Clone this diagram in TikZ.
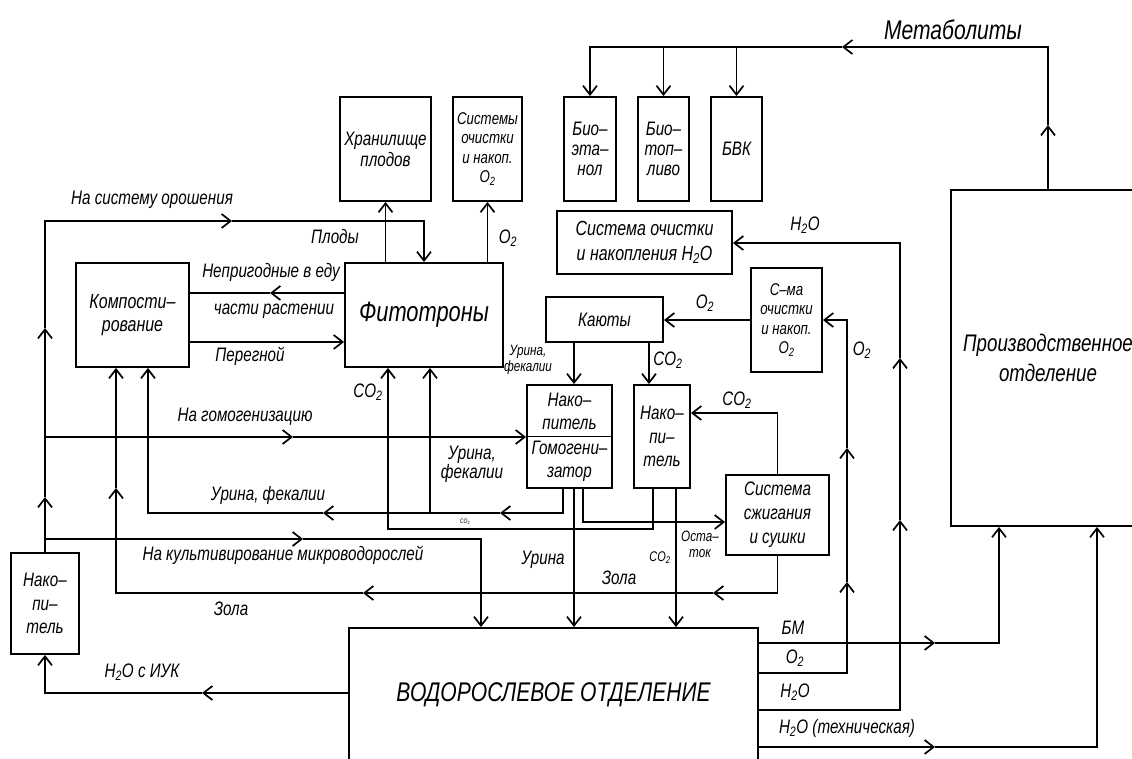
\documentclass[tikz,border=0pt]{standalone}
\usepackage{fontspec}
\setmainfont{Liberation Sans}[FakeStretch=0.78]
\usetikzlibrary{arrows.meta}
\newcommand{\two}{\textsubscript{2}}
\begin{document}
\begin{tikzpicture}[x=1pt,y=-1pt,line width=1.7pt,
  tip/.style={-{Straight Barb[length=9pt,width=14pt]}},
  box/.style={draw,line width=1.9pt,inner sep=0pt,align=center,font=\fontsize{19.5}{21}\selectfont\itshape},
  sbox/.style={box,font=\fontsize{17}{19.5}\selectfont\itshape},
  lbl/.style={inner sep=0pt,align=center,font=\fontsize{19.5}{20}\selectfont\itshape},
  slbl/.style={inner sep=0pt,align=center,font=\fontsize{15}{16}\selectfont\itshape},
  txt/.style={inner sep=0pt,align=center,font=\fontsize{19.5}{23}\selectfont\itshape}]
\useasboundingbox (0,0) rectangle (1132,758);
% boxes
\node[box,minimum width=91pt,minimum height=104pt] (hran) at (385.5,149) {Хранилище\\плодов};
\node[sbox,minimum width=69pt,minimum height=104pt] (sisO) at (487.5,149) {Системы\\очистки\\и накоп.\\O\two};
\node[box,minimum width=52pt,minimum height=104pt,font=\fontsize{19.5}{20}\selectfont\itshape] (bioet) at (590,149) {Био–\\эта–\\нол};
\node[box,minimum width=51pt,minimum height=104pt,font=\fontsize{19.5}{20}\selectfont\itshape] (biotop) at (663.5,149) {Био–\\топ–\\ливо};
\node[box,minimum width=51pt,minimum height=104pt] (bvk) at (736.5,149) {БВК};
\node[box,minimum width=175pt,minimum height=63pt,font=\fontsize{20.5}{25}\selectfont\itshape] (sisH) at (644.5,242.5) {Система очистки\\и накопления H\two O};
\node[box,minimum width=113pt,minimum height=104pt,font=\fontsize{20.5}{23}\selectfont\itshape] (komp) at (132.5,315) {Компости–\\рование};
\node[box,minimum width=158pt,minimum height=104pt,font=\fontsize{28}{30}\selectfont\itshape] (fito) at (424,315) {Фитотроны};
\node[box,minimum width=117pt,minimum height=45pt] (kay) at (604.5,319.5) {Каюты};
\node[sbox,minimum width=71pt,minimum height=104pt] (smaO) at (786.5,320) {С–ма\\очистки\\и накоп.\\O\two};
\node[box,minimum width=85pt,minimum height=103pt] (nakH) at (569.5,436.5) {};
\node[box,minimum width=56pt,minimum height=103pt,font=\fontsize{19.5}{23.5}\selectfont\itshape] (nakC) at (662,436.5) {Нако–\\пи–\\тель};
\node[box,minimum width=103pt,minimum height=80pt,font=\fontsize{19.5}{24}\selectfont\itshape] (szh) at (777.5,515) {Система\\сжигания\\и сушки};
\node[box,minimum width=68pt,minimum height=101pt,font=\fontsize{19.5}{23.5}\selectfont\itshape] (nakL) at (45,603.5) {Нако–\\пи–\\тель};
\node[box,minimum width=409pt,minimum height=134pt,font=\fontsize{27}{30}\selectfont\itshape] (vod) at (553.5,695) {ВОДОРОСЛЕВОЕ ОТДЕЛЕНИЕ};
\node[box,minimum width=194pt,minimum height=336pt,font=\fontsize{24}{30}\selectfont\itshape] (proiz) at (1048,358) {Производственное\\отделение};
% inside the store/homogeniser
\draw[line width=1.9pt] (nakH.west) -- (nakH.east);
\node[txt] (nakHa) at (569.5,411) {Нако–\\питель};
\node[txt] (nakHb) at (569.5,461) {Гомогени–\\затор};
% coordinates
\coordinate (mA) at (1048,125); \coordinate (cA) at (1048,47); \coordinate (mB) at (842,47);
\coordinate (d1) at (45,497); \coordinate (d2) at (45,328); \coordinate (d3) at (45,221); \coordinate (d4) at (232,221);
\coordinate (e1) at (293,437);
\coordinate (f1) at (303,539); \coordinate (f2) at (481,539);
\coordinate (g1) at (270,293); \coordinate (hy) at (0,342);
\coordinate (i0) at (563,513); \coordinate (i1) at (500,513); \coordinate (i2) at (430,513); \coordinate (i3) at (323,513); \coordinate (i4) at (148,513);
\coordinate (j0) at (777.5,593); \coordinate (j1) at (713,593); \coordinate (j2) at (363,593); \coordinate (j3) at (116,593); \coordinate (j4) at (116,488);
\coordinate (k) at (574,560);
\coordinate (l1) at (583,522);
\coordinate (m1) at (653,529); \coordinate (m2) at (388,529);
\coordinate (n1) at (676,600);
\coordinate (p1) at (649,360);
\coordinate (r1) at (777.5,413);
\coordinate (s0) at (847,673); \coordinate (s1) at (847,582); \coordinate (s2) at (847,448);
\coordinate (t0) at (900,710); \coordinate (t1) at (900,520); \coordinate (t2) at (900,358); \coordinate (t3) at (900,243);
\coordinate (u1) at (935,643); \coordinate (u2) at (999,643);
\coordinate (v1) at (935,747); \coordinate (v2) at (1097,747);
\coordinate (w0) at (202,693);
% metabolites
\draw[tip] (proiz.north) -- (mA);
\draw[tip] (mA) -- (cA) -- (mB);
\draw[tip] (mB) -| (bioet.north);
\draw[tip] (biotop.north |- mB) -- (biotop.north);
\draw[tip] (bvk.north |- mB) -- (bvk.north);
% phytotron outputs
\draw[tip] (fito.north -| hran.south) -- (hran.south);
\draw[tip] (fito.north -| sisO.south) -- (sisO.south);
% irrigation
\draw[tip] (nakL.north) -- (d1);
\draw[tip] (d1) -- (d2);
\draw[tip] (d2) -- (d3) -- (d4);
\draw[tip] (d4) -| (fito.north);
% homogenisation
\draw[tip] (nakL.north |- e1) -- (e1);
\draw[tip] (e1) -- (e1 -| nakH.west);
% cultivation
\draw[tip] (nakL.north |- f1) -- (f1);
\draw[tip] (f1) -- (f2) -- (f2 |- vod.north);
% inedible parts / humus
\draw[tip] (fito.west |- g1) -- (g1);
\draw (g1) -- (komp.east |- g1);
\draw[tip] (komp.east |- hy) -- (fito.west |- hy);
% urine, faeces
\draw[tip] (nakH.south -| i0) -- (i0) -- (i1);
\draw[tip] (i1) -- (i3);
\draw[tip] (i3) -- (i4) -- (i4 |- komp.south);
\draw[tip] (i2) -- (i2 |- fito.south);
% ash
\draw[tip] (szh.south) -- (j0) -- (j1);
\draw[tip] (j1) -- (j2);
\draw[tip] (j2) -- (j3) -- (j4);
\draw[tip] (j4) -- (j4 |- komp.south);
% urine to algae
\draw[tip] (nakH.south -| k) -- (k |- vod.north);
% residue
\draw[tip] (nakH.south -| l1) -- (l1) -- (l1 -| szh.west);
% CO2 to phytotrons
\draw[tip] (nakC.south -| m1) -- (m1) -- (m2) -- (m2 |- fito.south);
% CO2 to algae
\draw[tip] (nakC.south -| n1) -- (n1 |- vod.north);
% cabins
\draw[tip] (kay.south -| k) -- (k |- nakH.north);
\draw[tip] (kay.south -| p1) -- (p1 |- nakC.north);
\draw[tip] (smaO.west) -- (smaO.west -| kay.east);
\draw[tip] (szh.north) -- (r1) -- (r1 -| nakC.east);
% O2 from algae
\draw[tip] (vod.east |- s0) -- (s0) -- (s1);
\draw[tip] (s1) -- (s2);
\draw[tip] (s2) -- (s2 |- smaO.east) -- (smaO.east);
% H2O from algae
\draw[tip] (vod.east |- t0) -- (t0) -- (t1);
\draw[tip] (t1) -- (t2);
\draw[tip] (t2) -- (t3) -- (t3 -| sisH.east);
% biomass
\draw[tip] (vod.east |- u1) -- (u1);
\draw[tip] (u1) -- (u2) -- (u2 |- proiz.south);
% technical water
\draw[tip] (vod.east |- v1) -- (v1);
\draw[tip] (v1) -- (v2) -- (v2 |- proiz.south);
% water with IUK
\draw[tip] (vod.west |- w0) -- (w0);
\draw[tip] (w0) -| (nakL.south);
% labels
\node[lbl,font=\fontsize{27}{28}\selectfont\itshape] (lMet) at (953,30) {Метаболиты};
\node[lbl] (lOro) at (152,200) {На систему орошения};
\node[lbl] (lPlo) at (335,237) {Плоды};
\node[lbl] (lO2a) at (508,238) {O\two};
\node[lbl] (lH2Oa) at (805,225) {H\two O};
\node[lbl] (lNep) at (271,272) {Непригодные в еду};
\node[lbl] (lChas) at (274,311) {части растении};
\node[lbl] (lPer) at (250,356) {Перегной};
\node[lbl] (lO2b) at (705,303) {O\two};
\node[slbl] (lUrK) at (528,360) {Урина,\\фекалии};
\node[lbl] (lCO2a) at (668,360) {CO\two};
\node[lbl] (lCO2b) at (368,392) {CO\two};
\node[lbl] (lO2c) at (862,350) {O\two};
\node[lbl] (lHom) at (245,417) {На гомогенизацию};
\node[lbl] (lCO2c) at (737,400) {CO\two};
\node[lbl,font=\fontsize{19.5}{19}\selectfont\itshape] (lUrF) at (472,464) {Урина,\\фекалии};
\node[lbl] (lUr) at (268,495) {Урина, фекалии};
\node[inner sep=0pt,font=\fontsize{6.5}{7}\selectfont\itshape] (lCO2t) at (465,522) {CO\two};
\node[slbl] (lOst) at (700,544) {Оста–\\ток};
\node[inner sep=0pt,font=\fontsize{14}{15}\selectfont\itshape] (lCO2d) at (660,558) {CO\two};
\node[lbl] (lKul) at (283,555) {На культивирование микроводорослей};
\node[lbl] (lUrA) at (543,560) {Урина};
\node[lbl] (lZol1) at (619,578) {Зола};
\node[lbl] (lZol2) at (231,609) {Зола};
\node[lbl] (lBM) at (793,628) {БМ};
\node[lbl] (lO2d) at (795,658) {O\two};
\node[lbl] (lH2Ob) at (795,692) {H\two O};
\node[lbl] (lIUK) at (142,672) {H\two O с ИУК};
\node[lbl] (lTech) at (847,728) {H\two O (техническая)};
\end{tikzpicture}
\end{document}
